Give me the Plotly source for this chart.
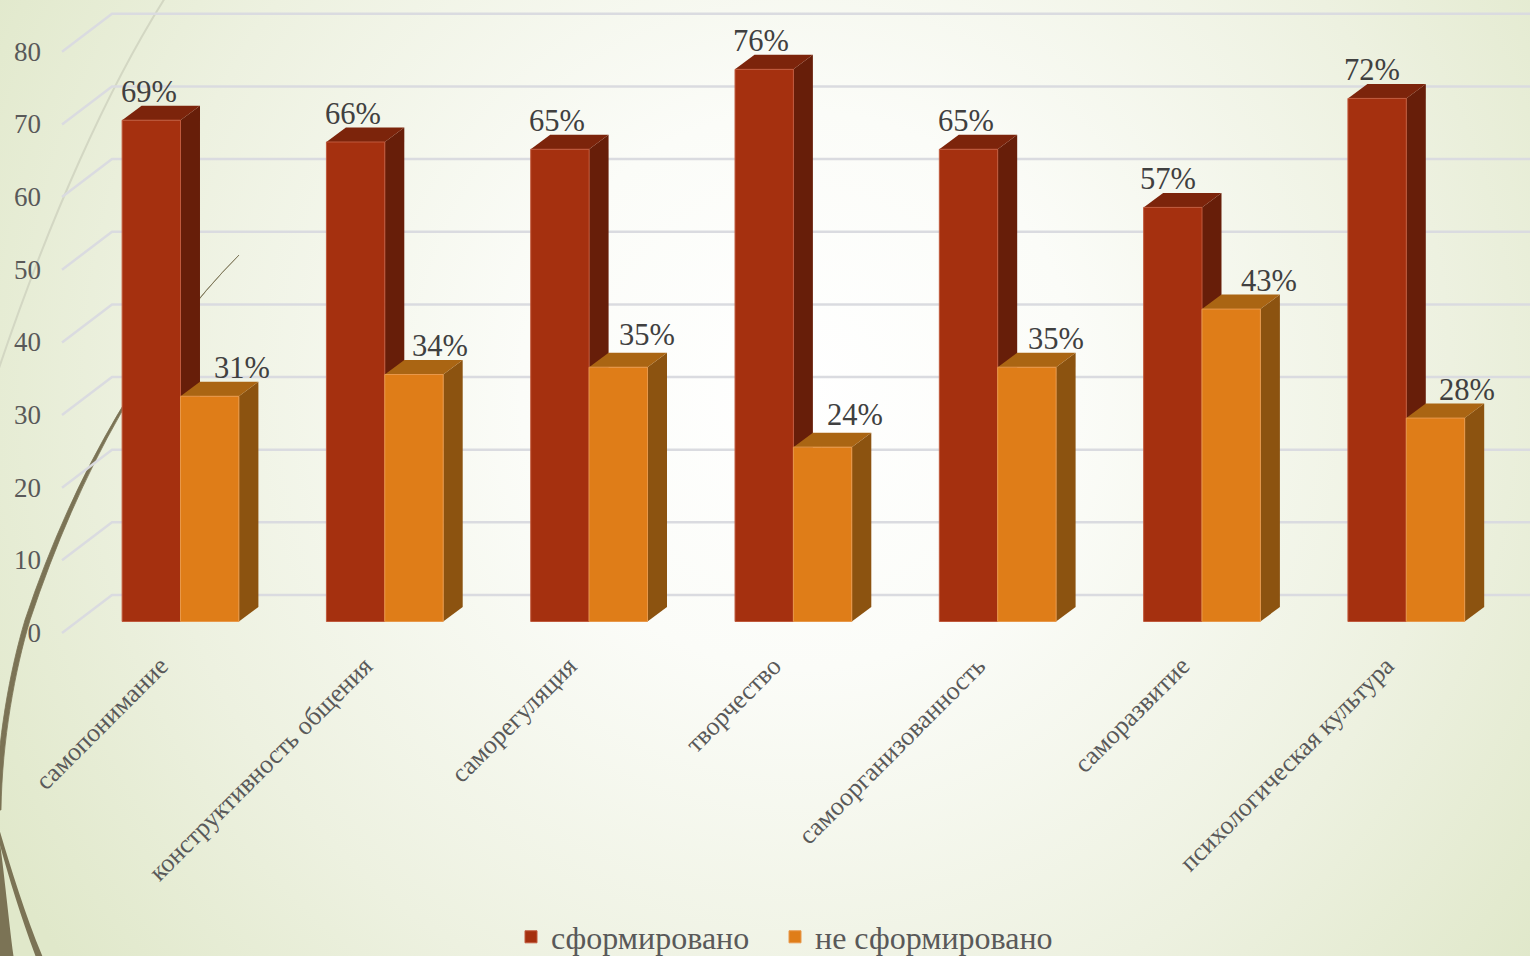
import base64
import plotly.graph_objects as go

categories = ["самопонимание", "конструктивность общения", "саморегуляция", "творчество",
              "самоорганизованность", "саморазвитие", "психологическая культура"]
formed = [69, 66, 65, 76, 65, 57, 72]
not_formed = [31, 34, 35, 24, 35, 43, 28]
y_ticks = [0, 10, 20, 30, 40, 50, 60, 70, 80]
formed_name = "сформировано"
not_formed_name = "не сформировано"

W, H = 1530, 956
X0, XS = 180.5, 204.3     # pixel of category 0, pixels per category
Y0, YS = 621.5, 7.265     # pixel of value 0, pixels per value
x_range = [(0 - X0) / XS, (W - X0) / XS]
y_range = [(Y0 - H) / YS, Y0 / YS]
BW = 58.4 / XS
DX, DY = 19.5 / XS, 14.5 / YS

INK = "#595959"
SERIF = "Liberation Serif"
RED = ("#A5300F", "#7C240B", "#671E09")
ORG = ("#DF7D18", "#AA6513", "#8C5310")
GRID = "#DADBE0"

svg = f'''<svg xmlns="http://www.w3.org/2000/svg" width="{W}" height="{H}">
<defs><radialGradient id="g" gradientUnits="userSpaceOnUse" cx="800" cy="390" r="930">
<stop offset="0" stop-color="#ffffff"/><stop offset="0.3" stop-color="#fbfcf8"/>
<stop offset="0.7" stop-color="#edf1e0"/><stop offset="1" stop-color="#e0e8ca"/></radialGradient></defs>
<rect width="{W}" height="{H}" fill="url(#g)"/></svg>'''
bg = "data:image/svg+xml;base64," + base64.b64encode(svg.encode()).decode()


def poly(pts, color):
    path = "M" + " L".join(f"{x:.4f},{y:.4f}" for x, y in pts) + " Z"
    return dict(type="path", path=path, xref="x", yref="y", layer="below",
                fillcolor=color, line=dict(width=0))


def px_path(d, fill=None, line=None, width=0):
    out = []
    for cmd, pts in d:
        out.append(cmd + " ".join(f"{x / W:.5f},{1 - y / H:.5f}" for x, y in pts))
    s = dict(type="path", path=" ".join(out), xref="paper", yref="paper", layer="below",
             line=dict(width=width, color=line or "rgba(0,0,0,0)"))
    if fill:
        s["fillcolor"] = fill
    return s


shapes = []
# decorative theme curves
BROWN = "#7B7355"
shapes.append(px_path([("M", [(165, -2)]), ("C", [(110, 85), (50, 215), (-5, 380)])],
                      line="#D3D7C3", width=2))
shapes.append(px_path([("M", [(239, 255)]), ("C", [(150, 345), (80, 470), (30, 620)]),
                       ("C", [(15, 670), (2, 740), (1, 810)]), ("L", [(-4, 810)]),
                       ("C", [(-3, 740), (10, 670), (25, 620)]),
                       ("C", [(75, 470), (150, 345), (239, 255)]), ("Z", [])],
                      fill=BROWN, line=BROWN, width=0.8))
shapes.append(px_path([("M", [(-2, 825)]), ("C", [(10, 865), (25, 915), (44, 960)]),
                       ("L", [(37, 960)]), ("C", [(20, 915), (8, 875), (-2, 838)]), ("Z", [])],
                      fill=BROWN))
shapes.append(px_path([("M", [(-2, 830)]), ("C", [(3, 860), (8, 915), (14, 960)]),
                       ("L", [(-2, 960)]), ("Z", [])],
                      fill=BROWN))

# walls: back-wall and side-wall gridlines
SIDE_F = (Y0 - 633) / YS
SIDE_B = (Y0 - 595) / YS
XF, XB = (62 - X0) / XS, (112 - X0) / XS
for v in y_ticks:
    shapes.append(dict(type="path", xref="x", yref="y", layer="below",
                       path=f"M{XF:.4f},{v + SIDE_F:.4f} L{XB:.4f},{v + SIDE_B:.4f} L{x_range[1]:.4f},{v + SIDE_B:.4f}",
                       line=dict(color=GRID, width=2.5)))

# 3D faces computed from the values
for i, (a, b) in enumerate(zip(formed, not_formed)):
    m = i
    l, r = m - BW, m + BW
    shapes.append(poly([(m, 0), (m + DX, DY), (m + DX, a + DY), (m, a)], RED[2]))
    shapes.append(poly([(l, a), (m, a), (m + DX, a + DY), (l + DX, a + DY)], RED[1]))
    shapes.append(poly([(r, 0), (r + DX, DY), (r + DX, b + DY), (r, b)], ORG[2]))
    shapes.append(poly([(m, b), (r, b), (r + DX, b + DY), (m + DX, b + DY)], ORG[1]))

# leader line on the 24% label
shapes.append(dict(type="line", xref="paper", yref="paper", layer="below",
                   x0=821 / W, y0=1 - 447 / H, x1=857 / W, y1=1 - 434 / H,
                   line=dict(color="#A6A6A6", width=1.3)))

annotations = []
formed_shift = [-2, -3, -3, -3, -3, -5, -5]
not_formed_shift = [32, 26, 29, 32, 29, 38, 31]
not_formed_lift = [9, 9, 13, 13, 9, 9, 9]
for i, (a, b) in enumerate(zip(formed, not_formed)):
    annotations.append(dict(x=i - BW / 2, y=a, xref="x", yref="y", text=f"{a}%", showarrow=False,
                            xshift=formed_shift[i], yanchor="bottom", yshift=9,
                            font=dict(family=SERIF, size=30.5, color="#404040")))
    annotations.append(dict(x=i + BW / 2, y=b, xref="x", yref="y", text=f"{b}%", showarrow=False,
                            xshift=not_formed_shift[i], yanchor="bottom", yshift=not_formed_lift[i],
                            font=dict(family=SERIF, size=30.5, color="#404040")))

fig = go.Figure()
xs = list(range(len(categories)))
fig.add_bar(x=xs, y=formed, name=formed_name, marker=dict(color=RED[0], line=dict(color="#C0593C", width=1)),
            legend="legend", showlegend=True)
fig.add_bar(x=xs, y=not_formed, name=not_formed_name, marker=dict(color=ORG[0], line=dict(color="#E8984A", width=1)),
            legend="legend2", showlegend=True)

legend_style = dict(orientation="h", xanchor="left", y=1 - 937 / H, yanchor="middle",
                    bgcolor="rgba(0,0,0,0)", font=dict(family=SERIF, size=32, color=INK))

fig.update_layout(
    width=W, height=H, margin=dict(l=0, r=0, t=0, b=0, autoexpand=False), autosize=False,
    paper_bgcolor="#ffffff", plot_bgcolor="rgba(0,0,0,0)", showlegend=True,
    barmode="group", bargap=1.5 / 3.5, bargroupgap=0,
    font=dict(family=SERIF, color=INK),
    images=[dict(source=bg, xref="paper", yref="paper", x=0, y=1, sizex=1, sizey=1,
                 sizing="stretch", layer="below", xanchor="left", yanchor="top")],
    shapes=shapes, annotations=annotations,
    xaxis=dict(range=x_range, tickmode="array", tickvals=xs, ticktext=categories, tickangle=-45,
               anchor="free", position=1 - Y0 / H, showgrid=False, zeroline=False, showline=False,
               ticks="", tickfont=dict(family=SERIF, size=26, color=INK), automargin=False,
               ticklabelshift=-20, ticklabelstandoff=23),
    yaxis=dict(range=y_range, tickmode="array", tickvals=y_ticks, anchor="free", position=41 / W,
               showgrid=False, zeroline=False, showline=False, ticks="", ticklabelshift=11,
               tickfont=dict(family=SERIF, size=27, color=INK), automargin=False),
    legend=dict(x=(551 - 40) / W, **legend_style),
    legend2=dict(x=(815 - 40) / W, **legend_style),
    hovermode=False,
)
fig.write_html("out.html", config=dict(displayModeBar=False),
               post_script="document.body.style.margin='0';document.body.style.overflow='hidden';")
